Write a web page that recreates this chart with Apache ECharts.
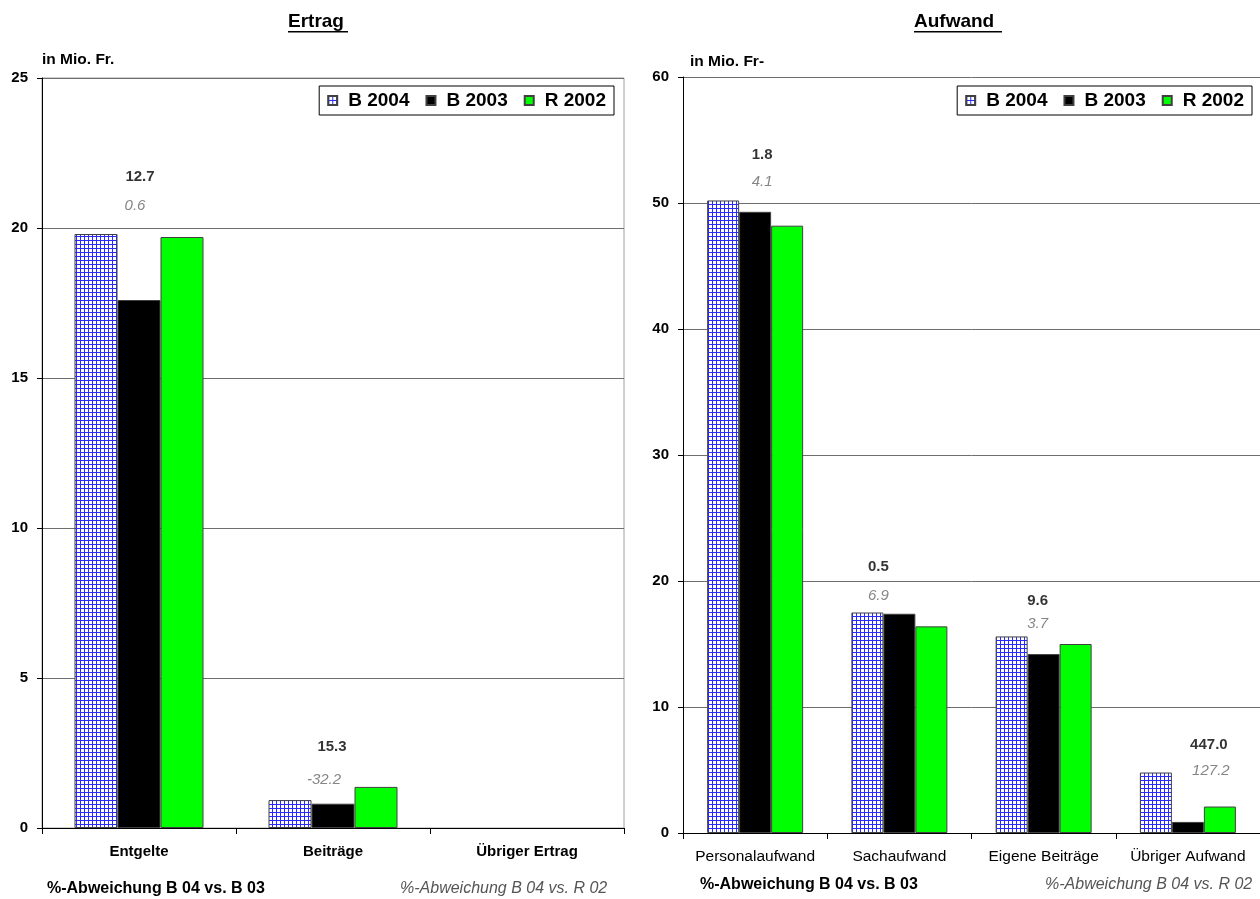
<!DOCTYPE html>
<html>
<head>
<meta charset="utf-8">
<title>Ertrag und Aufwand</title>
<script src="https://cdn.jsdelivr.net/npm/echarts@6/dist/echarts.min.js"></script>
<style>
  html, body { margin: 0; padding: 0; background: #fff; }
  #chart { width: 1260px; height: 899px; }
</style>
</head>
<body>
<div id="chart"></div>
<script>
// Ertrag (in Mio. Fr.)
const ertragCategories = ['Entgelte', 'Beiträge', 'Übriger Ertrag'];
const ertragB2004 = [19.8, 0.93, 0];
const ertragB2003 = [17.6, 0.81, 0];
const ertragR2002 = [19.7, 1.37, 0];
const ertragDevB03 = ['12.7', '15.3'];   // %-Abweichung B 04 vs. B 03
const ertragDevR02 = ['0.6', '-32.2'];   // %-Abweichung B 04 vs. R 02

// Aufwand (in Mio. Fr.)
const aufwandCategories = ['Personalaufwand', 'Sachaufwand', 'Eigene Beiträge', 'Übriger Aufwand'];
const aufwandB2004 = [50.2, 17.5, 15.6, 4.8];
const aufwandB2003 = [49.3, 17.4, 14.2, 0.88];
const aufwandR2002 = [48.2, 16.4, 15.0, 2.1];
const aufwandDevB03 = ['1.8', '0.5', '9.6', '447.0'];
const aufwandDevR02 = ['4.1', '6.9', '3.7', '127.2'];

const seriesNames = ['B 2004', 'B 2003', 'R 2002'];

// where the deviation notes sit: [category index, height in axis units, x shift in px]
const ertragNoteB03At = [[0, 21.7, 1], [1, 2.7, -1]];
const ertragNoteR02At = [[0, 20.73, -4], [1, 1.6, -9]];
const aufwandNoteB03At = [[0, 53.8, 7], [1, 21.1, -21], [2, 18.4, -6], [3, 6.98, 21]];
const aufwandNoteR02At = [[0, 51.67, 7], [1, 18.8, -21], [2, 16.6, -6], [3, 4.92, 23]];

const FONT = '"Liberation Sans", Arial, sans-serif';

// blue grid fill for the B 2004 bars
function gridPattern() {
  const c = document.createElement('canvas');
  c.width = 4; c.height = 4;
  const g = c.getContext('2d');
  g.fillStyle = '#ffffff';
  g.fillRect(0, 0, 4, 4);
  g.fillStyle = '#2a2aff';
  g.fillRect(0, 0, 4, 1);
  g.fillRect(0, 0, 1, 4);
  return { image: c, repeat: 'repeat' };
}
const pattern = gridPattern();
const barColors = [pattern, '#000000', '#00ff00'];

function bars(gridIdx, values, idx, width) {
  return {
    type: 'bar',
    name: seriesNames[idx],
    xAxisIndex: gridIdx,
    yAxisIndex: gridIdx,
    // empty categories get no bar at all
    data: values.map(v => (v === 0 ? null : v)),
    barWidth: width,
    barGap: '0%',
    itemStyle: { color: barColors[idx], borderColor: '#404040', borderWidth: 1 },
    emphasis: { disabled: true }
  };
}

function notes(gridIdx, texts, at, italic) {
  return {
    type: 'scatter',
    xAxisIndex: gridIdx,
    yAxisIndex: gridIdx,
    symbolSize: 0,
    silent: true,
    z: 5,
    data: at.map((p, i) => ({
      value: [p[0], p[1]],
      label: {
        show: true,
        position: 'inside',
        offset: [p[2], 0],
        formatter: texts[i],
        fontFamily: FONT,
        fontSize: 15,
        fontWeight: italic ? 'normal' : 'bold',
        fontStyle: italic ? 'italic' : 'normal',
        color: italic ? '#666666' : '#000000'
      }
    }))
  };
}

function legendAt(right) {
  return {
    data: seriesNames,
    right: right,
    top: 86,
    orient: 'horizontal',
    icon: 'rect',
    itemWidth: 9,
    itemHeight: 9,
    itemGap: 16,
    padding: [5, 8, 5, 8],
    borderColor: '#000000',
    borderWidth: 1,
    backgroundColor: '#ffffff',
    selectedMode: false,
    textStyle: { fontFamily: FONT, fontSize: 19, fontWeight: 'bold', color: '#000', padding: [0, 0, 0, 6] }
  };
}

function xAxisFor(gridIdx, cats, bold) {
  return {
    type: 'category',
    gridIndex: gridIdx,
    data: cats,
    axisLine: { lineStyle: { color: '#000', width: 1 } },
    axisTick: { show: true, length: 6, lineStyle: { color: '#000' } },
    axisLabel: {
      margin: 16,
      fontFamily: FONT,
      fontSize: bold ? 15 : 15.5,
      fontWeight: bold ? 'bold' : 'normal',
      color: '#000',
      interval: 0
    }
  };
}

function yAxisFor(gridIdx, max, step) {
  return {
    type: 'value',
    gridIndex: gridIdx,
    min: 0,
    max: max,
    interval: step,
    axisLine: { show: true, lineStyle: { color: '#000', width: 1 } },
    axisTick: { show: true, length: 5, lineStyle: { color: '#000' } },
    axisLabel: { margin: 14, fontFamily: FONT, fontSize: 15, fontWeight: 'bold', color: '#000' },
    splitLine: { show: true, lineStyle: { color: '#6e6e6e', width: 1 } }
  };
}

function heading(text, cx, width) {
  return [
    {
      type: 'text', left: cx - width / 2, top: 12,
      style: { text: text, font: 'bold 19px ' + FONT, fill: '#000' }
    },
    {
      type: 'rect', left: cx - width / 2, top: 31,
      shape: { width: width, height: 1.5 }, style: { fill: '#000' }
    }
  ];
}

function plainText(text, x, y, font, fill) {
  return { type: 'text', left: x, top: y, style: { text: text, font: font, fill: fill } };
}

const chart = echarts.init(document.getElementById('chart'), null, { renderer: 'canvas' });

chart.setOption({
  animation: false,
  backgroundColor: '#ffffff',
  grid: [
    { left: 42, top: 78, width: 582, height: 750, show: true, borderColor: '#a0a0a0', borderWidth: 1, backgroundColor: 'transparent' },
    { left: 683, top: 77, width: 582, height: 756 }
  ],
  legend: [legendAt(646), legendAt(8)],
  xAxis: [xAxisFor(0, ertragCategories, true), xAxisFor(1, aufwandCategories, false)],
  yAxis: [yAxisFor(0, 25, 5), yAxisFor(1, 60, 10)],
  series: [
    bars(0, ertragB2004, 0, 43),
    bars(0, ertragB2003, 1, 43),
    bars(0, ertragR2002, 2, 43),
    bars(1, aufwandB2004, 0, 32),
    bars(1, aufwandB2003, 1, 32),
    bars(1, aufwandR2002, 2, 32),
    notes(0, ertragDevB03, ertragNoteB03At, false),
    notes(0, ertragDevR02, ertragNoteR02At, true),
    notes(1, aufwandDevB03, aufwandNoteB03At, false),
    notes(1, aufwandDevR02, aufwandNoteR02At, true)
  ],
  graphic: [
    ...heading('Ertrag', 318, 60),
    ...heading('Aufwand', 958, 88),
    plainText('in Mio. Fr.', 42, 52, 'bold 15.5px ' + FONT, '#000'),
    plainText('in Mio. Fr-', 690, 54, 'bold 15.5px ' + FONT, '#000'),
    plainText('%-Abweichung B 04 vs. B 03', 47, 881, 'bold 16px ' + FONT, '#000'),
    plainText('%-Abweichung B 04 vs. R 02', 400, 881, 'italic 16px ' + FONT, '#555'),
    plainText('%-Abweichung B 04 vs. B 03', 700, 877, 'bold 16px ' + FONT, '#000'),
    plainText('%-Abweichung B 04 vs. R 02', 1045, 877, 'italic 16px ' + FONT, '#555')
  ]
});
</script>
</body>
</html>
